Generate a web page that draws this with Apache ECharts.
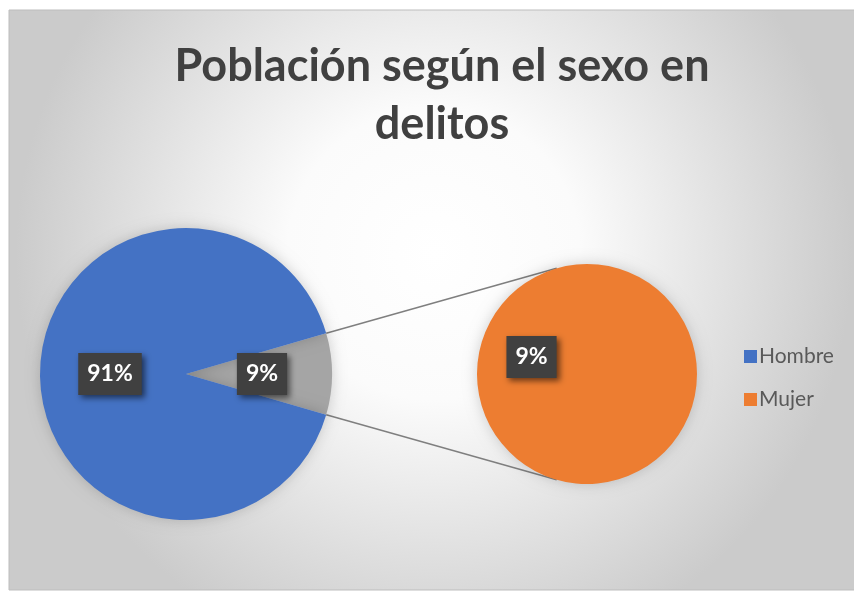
<!DOCTYPE html>
<html>
<head>
<meta charset="utf-8">
<script src="https://cdn.jsdelivr.net/npm/echarts@6/dist/echarts.min.js"></script>
<style>
  html, body { margin: 0; padding: 0; background: #fff; }
  #chart { width: 854px; height: 591px; }
</style>
</head>
<body>
<div id="chart"></div>
<script>
// datos
const categories = ['Hombre', 'Mujer'];
const values = [91, 9];
const colors = ['#4472c4', '#ed7d31'];
const otherColor = '#a5a5a5';
const titleText = 'Población según el sexo en\ndelitos';

const total = values.reduce((a, b) => a + b, 0);
const pct = v => Math.round(v / total * 100) + '%';

// layout
const mainCenter = [186, 374], mainR = 146;
const subCenter = [587, 374], subR = 110;
const otherDeg = values[1] / total * 360;
const lineDeg = 106; // punto de contacto en el pie secundario

const labelBox = {
  show: true,
  position: 'inside',
  formatter: p => pct(p.value),
  color: '#fff',
  fontFamily: 'Lato',
  fontWeight: 'bold',
  fontSize: 23,
  lineHeight: 24,
  backgroundColor: '#404040',
  padding: [9, 9],
  shadowColor: 'rgba(0,0,0,0.55)',
  shadowBlur: 6,
  shadowOffsetX: 3,
  shadowOffsetY: 3
};

// lineas de conexion
const rad = d => d * Math.PI / 180;
const half = otherDeg / 2;
const connectors = [1, -1].map(s => ({
  type: 'line',
  silent: true,
  z: 1,
  shape: {
    x1: mainCenter[0] + mainR * Math.cos(rad(half)),
    y1: mainCenter[1] - s * mainR * Math.sin(rad(half)),
    x2: subCenter[0] + subR * Math.cos(rad(lineDeg)),
    y2: subCenter[1] - s * subR * Math.sin(rad(lineDeg))
  },
  style: { stroke: '#7f7f7f', lineWidth: 1.5 }
}));

let mycharts = echarts.init(document.getElementById('chart'));
let option = {
  animation: false,
  title: {
    text: titleText,
    left: 437,
    textAlign: 'center',
    top: 32,
    textStyle: {
      fontFamily: 'Lato',
      fontWeight: 'bold',
      fontSize: 45,
      lineHeight: 58,
      color: '#404040'
    }
  },
  legend: {
    data: categories,
    orient: 'vertical',
    left: 739,
    top: 341,
    itemGap: 22,
    itemWidth: 13,
    itemHeight: 13,
    icon: 'rect',
    textStyle: { fontFamily: 'Lato', fontSize: 21, color: '#595959', padding: [0, 0, 0, -3] }
  },
  graphic: [
    {
      type: 'rect',
      z: -10,
      shape: { x: 9, y: 10, width: 850, height: 580 },
      style: {
        fill: {
          type: 'radial', x: 0.5, y: 0.42, r: 0.72,
          colorStops: [
            { offset: 0, color: '#ffffff' },
            { offset: 0.35, color: '#fbfbfb' },
            { offset: 1, color: '#cbcbcb' }
          ]
        },
        stroke: '#bdbdbd',
        lineWidth: 1
      }
    },
    ...connectors
  ],
  series: [
    {
      name: 'principal',
      type: 'pie',
      center: mainCenter,
      radius: mainR,
      startAngle: half,
      clockwise: true,
      label: labelBox,
      labelLine: { show: false },
      itemStyle: {
        shadowColor: 'rgba(0,0,0,0.18)',
        shadowBlur: 14
      },
      data: [
        { name: 'Otro', value: values[1], itemStyle: { color: otherColor } },
        { name: categories[0], value: values[0], itemStyle: { color: colors[0] } }
      ]
    },
    {
      name: 'secundario',
      type: 'pie',
      center: subCenter,
      radius: subR,
      startAngle: -17,
      label: labelBox,
      labelLine: { show: false },
      itemStyle: {
        shadowColor: 'rgba(0,0,0,0.18)',
        shadowBlur: 14
      },
      data: [
        { name: categories[1], value: values[1], itemStyle: { color: colors[1] } }
      ]
    }
  ]
};
mycharts.setOption(option);
</script>
</body>
</html>
